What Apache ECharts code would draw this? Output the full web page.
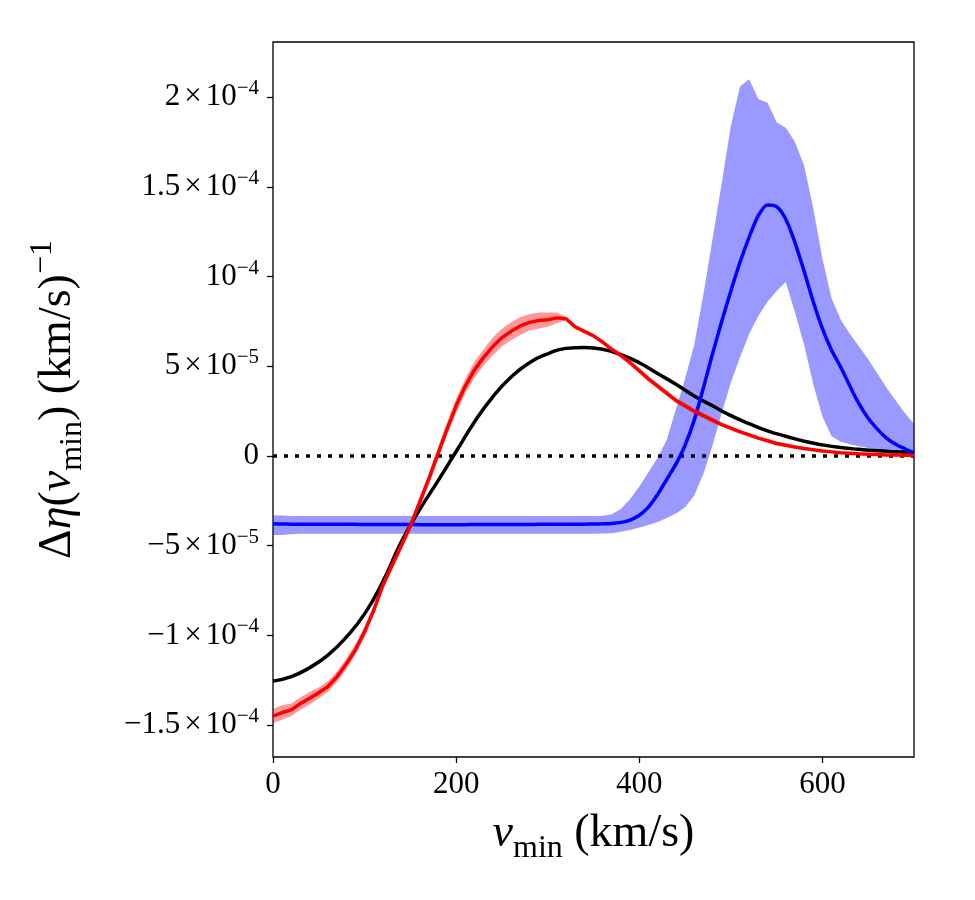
<!DOCTYPE html>
<html>
<head>
<meta charset="utf-8">
<script src="https://cdn.jsdelivr.net/npm/echarts@6/dist/echarts.min.js"></script>
<style>
  html, body { margin: 0; padding: 0; background: #fff; }
  #chart { width: 975px; height: 900px; }
</style>
</head>
<body>
<div id="chart"></div>
<script>
// all y values are in units of 1e-5 (km/s)^-1
const vFine = [0, 10, 20, 30, 40, 50, 60, 70, 80, 90, 100, 110, 120, 130, 140, 150, 160, 170, 180, 190,
  200, 210, 220, 230, 240, 250, 260, 270, 280, 290, 300, 310, 320, 330, 340, 350, 360, 370, 380, 390,
  400, 410, 420, 430, 440, 450, 460, 470, 480, 490, 500, 510, 520, 530, 540, 550, 560, 570, 580, 590,
  600, 610, 620, 630, 640, 650, 660, 670, 680, 690, 700]
const vCoarse = [0, 20, 40, 60, 80, 100, 120, 140, 160, 180, 200, 220, 240, 260, 280, 300, 320, 340,
  360, 380, 400, 420, 440, 460, 480, 500, 520, 540, 560, 580, 600, 620, 640, 660, 680, 700]

// black curve
const blackEta = [-12.55, -12.3, -11.8, -11.1, -10.1, -8.8, -7.0, -4.8, -3.0, -1.4, 0.25, 1.9, 3.3, 4.4,
  5.2, 5.7, 6.0, 6.05, 5.95, 5.65, 5.2, 4.6, 4.0, 3.35, 2.8, 2.25, 1.8, 1.4, 1.1, 0.82, 0.62, 0.47,
  0.37, 0.29, 0.24, 0.2]

// red curve and its band
const redEta = [-14.5, -14.3, -14.15, -13.8, -13.5, -13.2, -12.85, -12.3, -11.6, -10.8, -9.8, -8.6, -7.2,
  -6.1, -5.0, -3.9, -2.6, -1.3, 0.1, 1.5, 2.8, 3.9, 4.8, 5.5, 6.1, 6.6, 6.95, 7.25, 7.45, 7.55, 7.6,
  7.7, 7.65, 7.2, 6.95, 6.7, 6.35, 5.95, 5.6, 5.2, 4.75, 4.3, 3.9, 3.5, 3.1, 2.8, 2.5, 2.25, 2.0,
  1.75, 1.55, 1.35, 1.18, 1.0, 0.85, 0.7, 0.6, 0.5, 0.42, 0.35, 0.28, 0.23, 0.18, 0.15, 0.12, 0.1,
  0.08, 0.06, 0.05, 0.04, 0.03]
const redLow = [-14.9, -14.7, -14.5, -14.15, -13.85, -13.5, -13.15, -12.6, -11.9, -11.1, -10.1, -8.85,
  -7.45, -6.35, -5.25, -4.15, -2.9, -1.6, -0.25, 1.15, 2.4, 3.5, 4.35, 5.05, 5.6, 6.1, 6.45, 6.75,
  7.0, 7.1, 7.2, 7.4, 7.55, 7.15, 6.85, 6.6, 6.25, 5.85, 5.5, 5.05, 4.6, 4.15, 3.75, 3.35, 2.95,
  2.65, 2.35, 2.1, 1.85, 1.65, 1.45, 1.25, 1.08, 0.9, 0.75, 0.6, 0.5, 0.42, 0.35, 0.28, 0.23, 0.18,
  0.14, 0.11, 0.09, 0.07, 0.05, 0.04, 0.03, 0.02, 0.01]
const redHigh = [-14.1, -13.9, -13.8, -13.45, -13.15, -12.9, -12.55, -12.0, -11.3, -10.5, -9.5, -8.35,
  -6.95, -5.85, -4.75, -3.65, -2.3, -1.0, 0.45, 1.85, 3.2, 4.3, 5.25, 5.95, 6.6, 7.1, 7.45, 7.75,
  7.9, 8.0, 8.0, 8.0, 7.75, 7.25, 7.05, 6.8, 6.45, 6.05, 5.7, 5.35, 4.9, 4.45, 4.05, 3.65, 3.25,
  2.95, 2.65, 2.4, 2.15, 1.85, 1.65, 1.45, 1.28, 1.1, 0.95, 0.8, 0.7, 0.58, 0.5, 0.42, 0.33, 0.28,
  0.22, 0.19, 0.15, 0.13, 0.11, 0.08, 0.07, 0.06, 0.05]

// blue curve and its band
const blueEta = [-3.78, -3.79, -3.8, -3.8, -3.8, -3.8, -3.81, -3.81, -3.81, -3.81, -3.82, -3.82, -3.82,
  -3.82, -3.82, -3.82, -3.83, -3.83, -3.83, -3.83, -3.83, -3.83, -3.82, -3.82, -3.82, -3.82, -3.82,
  -3.82, -3.82, -3.81, -3.81, -3.81, -3.8, -3.8, -3.8, -3.79, -3.78, -3.76, -3.7, -3.57, -3.3, -2.85,
  -2.15, -1.3, -0.45, 0.6, 2.0, 3.8, 5.7, 7.5, 9.2, 10.8, 12.2, 13.4, 14.0, 13.9, 13.2, 11.9, 10.3,
  8.6, 7.1, 5.9, 4.95, 3.9, 2.9, 2.1, 1.5, 1.0, 0.65, 0.4, 0.17]
const blueLow = [-4.4, -4.4, -4.36, -4.33, -4.33, -4.33, -4.33, -4.33, -4.33, -4.33, -4.33, -4.33, -4.33,
  -4.33, -4.33, -4.33, -4.33, -4.33, -4.33, -4.33, -4.33, -4.33, -4.33, -4.33, -4.33, -4.33, -4.33,
  -4.33, -4.33, -4.33, -4.33, -4.33, -4.33, -4.33, -4.33, -4.33, -4.32, -4.3, -4.22, -4.12, -3.98,
  -3.85, -3.68, -3.45, -3.2, -2.85, -2.2, -1.0, 0.6, 2.4, 4.1, 5.5, 6.8, 7.8, 8.6, 9.2, 9.7, 8.0,
  6.2, 4.0, 2.2, 1.1, 0.8, 0.65, 0.55, 0.45, 0.35, 0.28, 0.22, 0.17, 0.12]
const blueHigh = [-3.3, -3.32, -3.34, -3.34, -3.34, -3.34, -3.34, -3.34, -3.34, -3.34, -3.34, -3.34, -3.34,
  -3.34, -3.34, -3.34, -3.34, -3.34, -3.34, -3.34, -3.34, -3.34, -3.34, -3.34, -3.34, -3.34, -3.34,
  -3.34, -3.34, -3.34, -3.34, -3.34, -3.34, -3.34, -3.34, -3.34, -3.33, -3.25, -2.95, -2.4, -1.7,
  -0.9, -0.1, 0.9, 2.6, 4.3, 6.2, 9.0, 12.1, 15.2, 18.4, 20.6, 21.0, 19.9, 19.7, 18.6, 18.3, 17.5,
  16.2, 13.8, 11.0, 8.8, 7.6, 6.8, 6.1, 5.4, 4.6, 3.8, 3.1, 2.4, 1.8]

const zeroX = [0, 700]
const zeroY = [0, 0]

// ticks: y label = mantissa × 10^exponent
const xTicks = [0, 200, 400, 600]
const yTicks = [-15, -10, -5, 0, 5, 10, 15, 20]
const yTickMant = ['−1.5', '−1', '−5', '0', '5', '', '1.5', '2']
const yTickExp = ['−4', '−4', '−5', '', '−5', '−4', '−4', '−4']

const FONT = 'Liberation Serif'
const pairs = (xs, ys) => xs.map((x, i) => [x, ys[i]])

const tickRich = {
  b: { fontFamily: FONT, fontSize: 31, lineHeight: 38, color: '#000' },
  x: { fontFamily: FONT, fontSize: 31, lineHeight: 38, color: '#000', padding: [0, 4, 0, 4] },
  s: { fontFamily: FONT, fontSize: 21, lineHeight: 21, color: '#000', verticalAlign: 'top' }
}
const nameRich = {
  n: { fontFamily: FONT, fontSize: 46, lineHeight: 62, color: '#000' },
  i: { fontFamily: FONT, fontSize: 46, lineHeight: 62, color: '#000', fontStyle: 'italic' },
  sub: { fontFamily: FONT, fontSize: 32, lineHeight: 32, color: '#000', verticalAlign: 'bottom' },
  sup: { fontFamily: FONT, fontSize: 32, lineHeight: 32, color: '#000', verticalAlign: 'top' }
}

const yLabel = (val) => {
  const i = yTicks.indexOf(Math.round(val))
  if (i < 0) return ''
  if (!yTickExp[i]) return '{b|' + yTickMant[i] + '}'
  const mant = yTickMant[i] ? '{b|' + yTickMant[i] + '}{x|×}' : ''
  return mant + '{b|10}{s|' + yTickExp[i] + '}'
}

// shaded band between lo and hi, drawn as one polygon in data coordinates
const band = (name, xs, lo, hi, color) => ({
  name: name,
  type: 'custom',
  silent: true,
  data: [0],
  z: 1,
  renderItem: (params, api) => {
    const upper = xs.map((x, i) => api.coord([x, hi[i]]))
    const lower = xs.map((x, i) => api.coord([x, lo[i]])).reverse()
    return {
      type: 'polygon',
      shape: { points: upper.concat(lower) },
      style: { fill: color, stroke: null }
    }
  }
})

const chart = echarts.init(document.getElementById('chart'), null, { renderer: 'canvas' })
chart.setOption({
  animation: false,
  backgroundColor: '#fff',
  grid: {
    left: 273,
    right: 61,
    top: 42,
    bottom: 143,
    show: true,
    borderColor: '#000',
    borderWidth: 1.3,
    backgroundColor: 'transparent'
  },
  xAxis: {
    type: 'value',
    min: 0,
    max: 700,
    axisLine: { show: false, onZero: false },
    splitLine: { show: false },
    axisTick: { show: true, length: 6, customValues: xTicks, lineStyle: { color: '#000', width: 1.3 } },
    axisLabel: {
      customValues: xTicks,
      margin: 12,
      fontFamily: FONT,
      fontSize: 31,
      color: '#000'
    },
    name: '{i|v}{sub|min}{n| (km/s)}',
    nameLocation: 'middle',
    nameGap: 46,
    nameTextStyle: { rich: nameRich }
  },
  yAxis: {
    type: 'value',
    min: -16.78,
    max: 23.08,
    axisLine: { show: false, onZero: false },
    splitLine: { show: false },
    axisTick: { show: true, length: 6, customValues: yTicks, lineStyle: { color: '#000', width: 1.3 } },
    axisLabel: {
      customValues: yTicks,
      margin: 14,
      color: '#000',
      formatter: yLabel,
      rich: tickRich
    },
    name: '{n|Δ}{i|η}{n|(}{i|v}{sub|min}{n|) (km/s)}{sup|−1}',
    nameLocation: 'middle',
    nameRotate: 90,
    nameGap: 184,
    nameTextStyle: { rich: nameRich }
  },
  series: [
    band('blueBand', vFine, blueLow, blueHigh, 'rgba(0,0,255,0.4)'),
    band('redBand', vFine, redLow, redHigh, 'rgba(255,0,0,0.4)'),
    {
      name: 'black',
      type: 'line',
      data: pairs(vCoarse, blackEta),
      smooth: true,
      symbol: 'none',
      lineStyle: { color: '#000', width: 3.5 },
      z: 3
    },
    {
      name: 'zero',
      type: 'line',
      data: pairs(zeroX, zeroY),
      symbol: 'none',
      lineStyle: { color: '#000', width: 3.5, type: [4, 7] },
      z: 4
    },
    {
      name: 'blue',
      type: 'line',
      data: pairs(vFine, blueEta),
      smooth: 0.3,
      symbol: 'none',
      lineStyle: { color: '#0000ff', width: 3.5 },
      z: 5
    },
    {
      name: 'red',
      type: 'line',
      data: pairs(vFine, redEta),
      symbol: 'none',
      lineStyle: { color: '#ff0000', width: 3.5 },
      z: 6
    }
  ]
})
</script>
</body>
</html>
